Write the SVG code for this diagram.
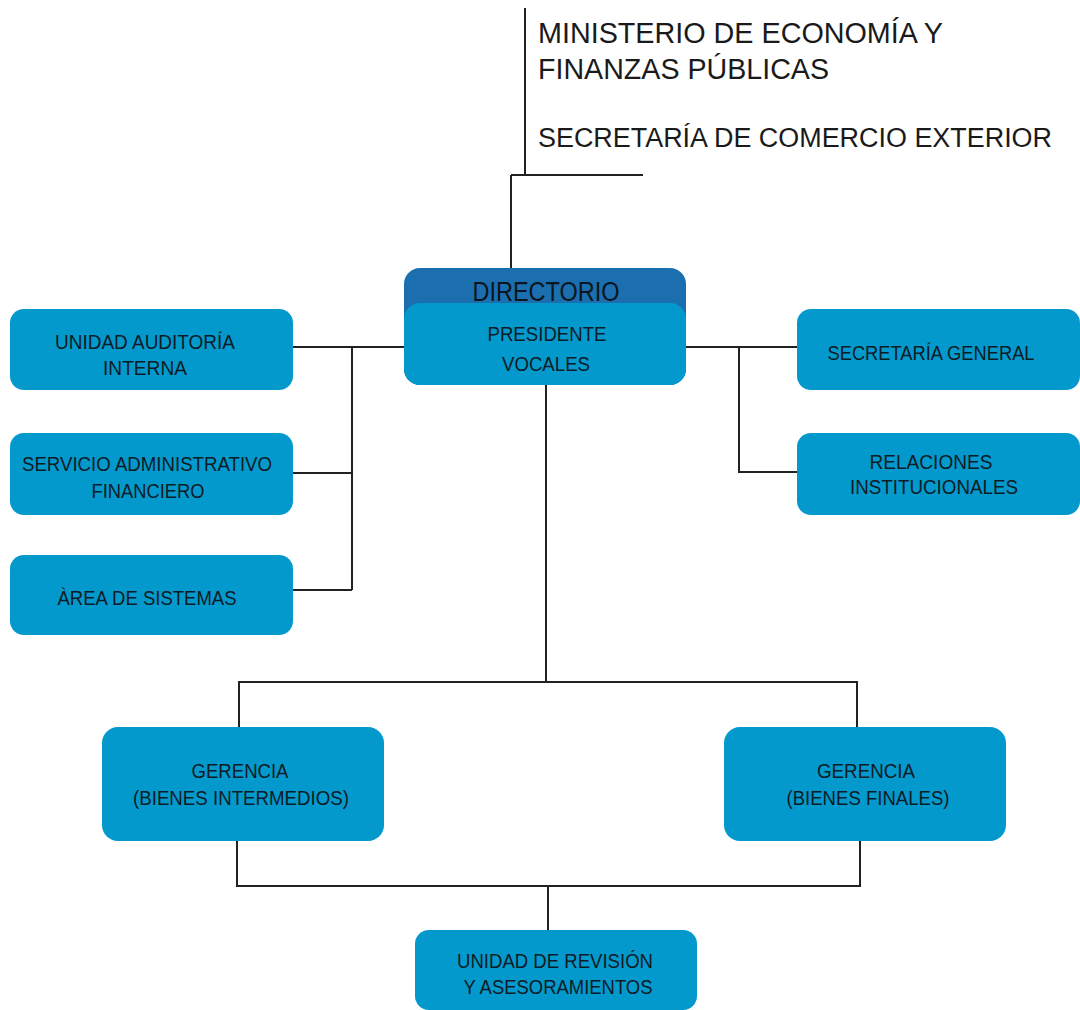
<svg xmlns="http://www.w3.org/2000/svg" width="1080" height="1010" viewBox="0 0 1080 1010">
<style>
.box{fill:#0399cc}
.hdr{fill:#1b6fae}
.lbl{font-family:"Liberation Sans",Arial,sans-serif;font-size:20px;fill:#0d1c26;text-anchor:middle}
.top{font-family:"Liberation Sans",Arial,sans-serif;font-size:29px;fill:#1a1a1a}
.ln{stroke:#222;stroke-width:2;fill:none}
</style>
<rect width="1080" height="1010" fill="#ffffff"/>
<g id="connectors">
<path class="ln" d="M525 8 V175 M511 175 H643 M511 175 V268"/>
<path class="ln" d="M293 347 H404 M352 347 V590 M293 473 H352 M293 590 H352"/>
<path class="ln" d="M686 347 H797 M739 347 V472 H797"/>
<path class="ln" d="M546 385 V682 M239 727 V682 H857 V727"/>
<path class="ln" d="M237 841 V886 H860 V841 M548 886 V930"/>
</g>
<g id="ministerio">
<text class="top" x="538" y="43" textLength="405" lengthAdjust="spacingAndGlyphs">MINISTERIO DE ECONOMÍA Y</text>
<text class="top" x="538" y="79" textLength="291" lengthAdjust="spacingAndGlyphs">FINANZAS PÚBLICAS</text>
<text class="top" x="538" y="147" font-size="27" style="font-size:27px" textLength="514" lengthAdjust="spacingAndGlyphs">SECRETARÍA DE COMERCIO EXTERIOR</text>
</g>
<g id="directorio">
<rect class="hdr" x="404" y="268" width="282" height="117" rx="16"/>
<rect class="box" x="404" y="303" width="282" height="82" rx="16"/>
<text x="546" y="301" text-anchor="middle" font-family="'Liberation Sans',Arial,sans-serif" font-size="27" fill="#0b1620" textLength="147" lengthAdjust="spacingAndGlyphs">DIRECTORIO</text>
<text class="lbl" x="547" y="341" textLength="119" lengthAdjust="spacingAndGlyphs">PRESIDENTE</text>
<text class="lbl" x="546" y="371" textLength="88" lengthAdjust="spacingAndGlyphs">VOCALES</text>
</g>
<g id="auditoria">
<rect class="box" x="10" y="309" width="283" height="81" rx="14"/>
<text class="lbl" x="145" y="349" textLength="180" lengthAdjust="spacingAndGlyphs">UNIDAD AUDITORÍA</text>
<text class="lbl" x="145" y="375" textLength="84" lengthAdjust="spacingAndGlyphs">INTERNA</text>
</g>
<g id="servicio">
<rect class="box" x="10" y="433" width="283" height="82" rx="14"/>
<text class="lbl" x="147" y="471" textLength="250" lengthAdjust="spacingAndGlyphs">SERVICIO ADMINISTRATIVO</text>
<text class="lbl" x="148" y="498" textLength="113" lengthAdjust="spacingAndGlyphs">FINANCIERO</text>
</g>
<g id="sistemas">
<rect class="box" x="10" y="555" width="283" height="80" rx="14"/>
<text class="lbl" x="147" y="605" textLength="179" lengthAdjust="spacingAndGlyphs">ÀREA DE SISTEMAS</text>
</g>
<g id="secretaria">
<rect class="box" x="797" y="309" width="283" height="81" rx="14"/>
<text class="lbl" x="931" y="360" textLength="207" lengthAdjust="spacingAndGlyphs">SECRETARÍA GENERAL</text>
</g>
<g id="relaciones">
<rect class="box" x="797" y="433" width="283" height="82" rx="14"/>
<text class="lbl" x="931" y="469" textLength="123" lengthAdjust="spacingAndGlyphs">RELACIONES</text>
<text class="lbl" x="934" y="494" textLength="168" lengthAdjust="spacingAndGlyphs">INSTITUCIONALES</text>
</g>
<g id="gerencia-intermedios">
<rect class="box" x="102" y="727" width="282" height="114" rx="16"/>
<text class="lbl" x="240" y="778" textLength="97" lengthAdjust="spacingAndGlyphs">GERENCIA</text>
<text class="lbl" x="241" y="805" textLength="216" lengthAdjust="spacingAndGlyphs">(BIENES INTERMEDIOS)</text>
</g>
<g id="gerencia-finales">
<rect class="box" x="724" y="727" width="282" height="114" rx="16"/>
<text class="lbl" x="866" y="778" textLength="98" lengthAdjust="spacingAndGlyphs">GERENCIA</text>
<text class="lbl" x="868" y="805" textLength="163" lengthAdjust="spacingAndGlyphs">(BIENES FINALES)</text>
</g>
<g id="revision">
<rect class="box" x="415" y="930" width="282" height="80" rx="14"/>
<text class="lbl" x="555" y="968" textLength="196" lengthAdjust="spacingAndGlyphs">UNIDAD DE REVISIÓN</text>
<text class="lbl" x="558" y="994" textLength="189" lengthAdjust="spacingAndGlyphs">Y ASESORAMIENTOS</text>
</g>
</svg>
